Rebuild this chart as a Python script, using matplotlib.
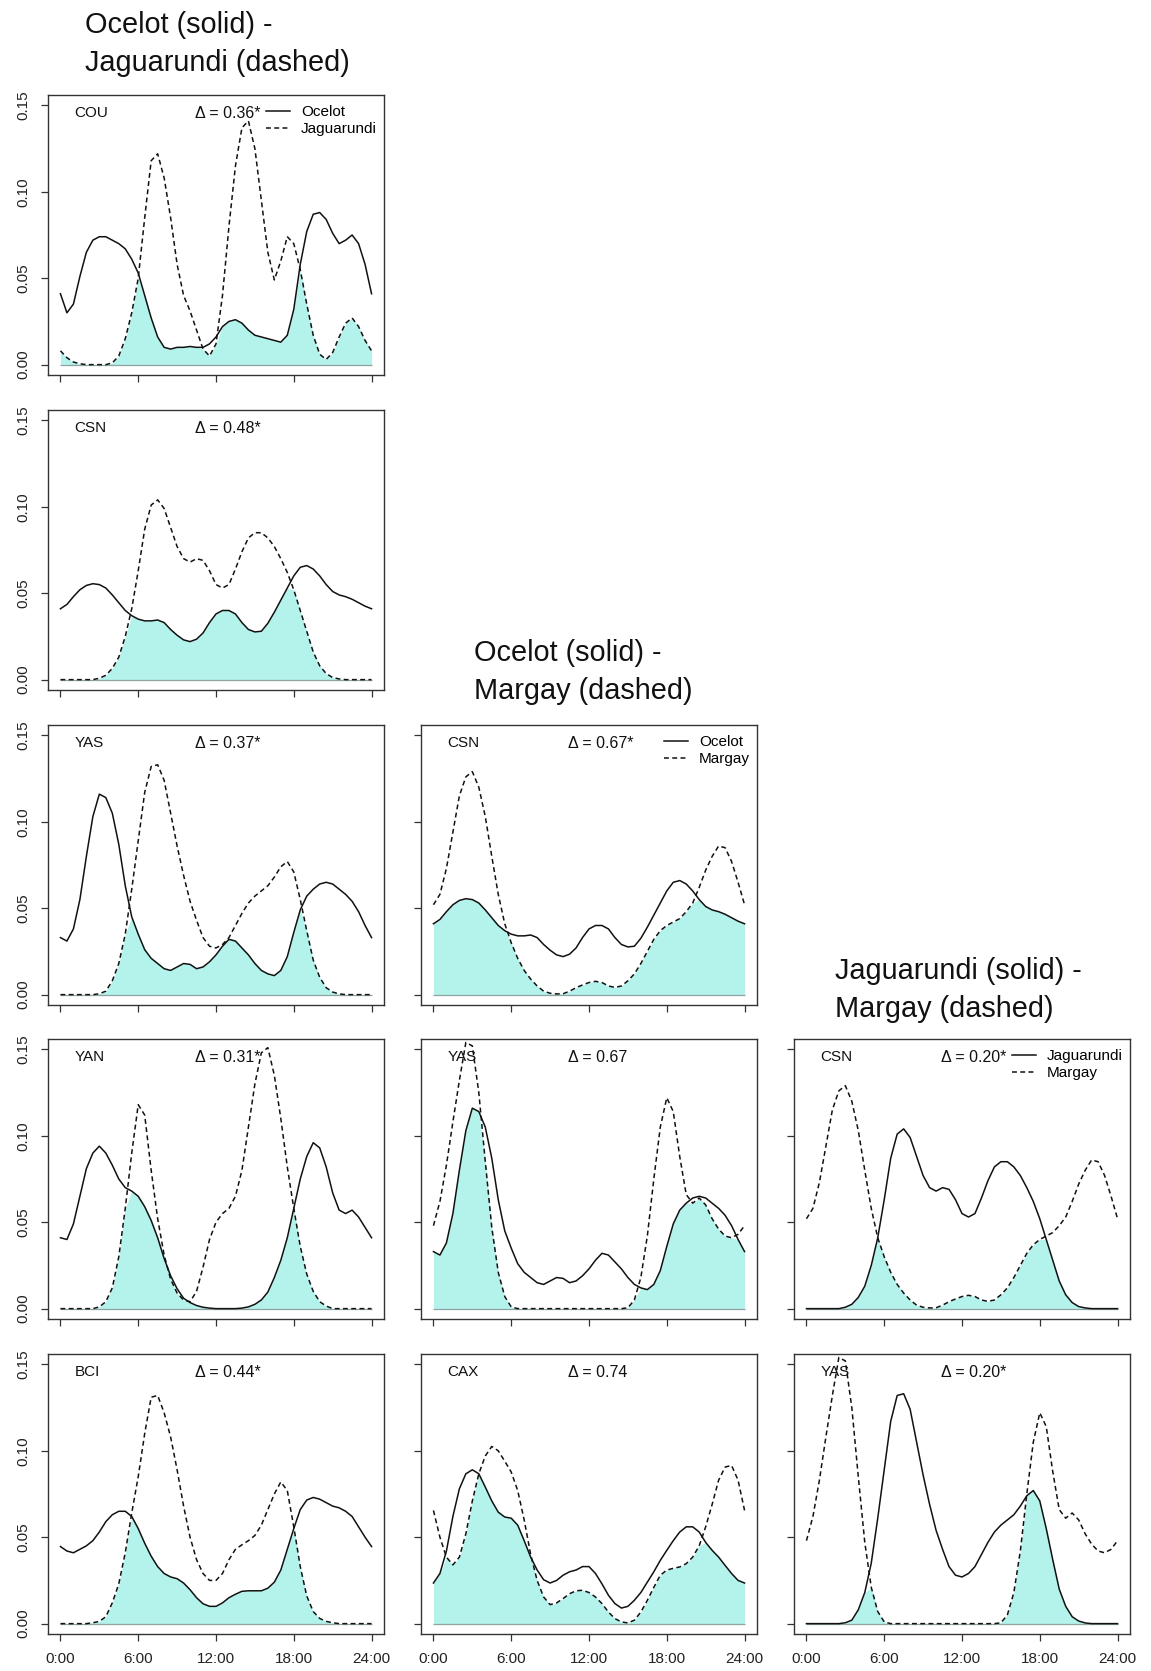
import matplotlib
matplotlib.use("Agg")
import matplotlib.pyplot as plt
import numpy as np
from matplotlib.lines import Line2D

plt.rcParams['font.family'] = ['Liberation Sans', 'DejaVu Sans']

# ---------------- data (activity density, half-hour grid 0:00 .. 24:00) ----------------
hours = [i * 0.5 for i in range(49)]

ocelot_COU = [0.041, 0.030, 0.035, 0.051, 0.065, 0.072, 0.074, 0.074, 0.072, 0.070,
              0.067, 0.061, 0.053, 0.040, 0.027, 0.016, 0.010, 0.009, 0.010, 0.010,
              0.0105, 0.010, 0.010, 0.012, 0.016, 0.022, 0.025, 0.026, 0.024, 0.020,
              0.017, 0.016, 0.015, 0.014, 0.013, 0.017, 0.032, 0.058, 0.077, 0.087,
              0.088, 0.084, 0.076, 0.070, 0.072, 0.075, 0.070, 0.058, 0.041]
jaguarundi_COU = [0.008, 0.004, 0.0015, 0.0005, 0.0, 0.0, 0.0, 0.0, 0.001, 0.005,
                  0.015, 0.030, 0.050, 0.085, 0.118, 0.122, 0.108, 0.085, 0.058, 0.040,
                  0.031, 0.020, 0.009, 0.005, 0.012, 0.040, 0.080, 0.115, 0.137, 0.141,
                  0.125, 0.095, 0.065, 0.049, 0.060, 0.074, 0.070, 0.055, 0.035, 0.017,
                  0.006, 0.003, 0.007, 0.016, 0.024, 0.027, 0.022, 0.014, 0.008]
ocelot_CSN = [0.041, 0.0435, 0.048, 0.052, 0.0545, 0.0555, 0.055, 0.053, 0.049, 0.0445,
              0.040, 0.037, 0.035, 0.034, 0.034, 0.0345, 0.033, 0.029, 0.0257, 0.023,
              0.022, 0.0234, 0.027, 0.033, 0.038, 0.040, 0.040, 0.038, 0.033, 0.029,
              0.0276, 0.028, 0.0326, 0.039, 0.046, 0.053, 0.060, 0.065, 0.066, 0.064,
              0.060, 0.055, 0.051, 0.049, 0.048, 0.0465, 0.0445, 0.0425, 0.041]
jaguarundi_CSN = [0.0, 0.0, 0.0, 0.0, 0.0, 0.0, 0.0008, 0.0025, 0.0065, 0.013,
                  0.025, 0.041, 0.063, 0.087, 0.101, 0.104, 0.099, 0.088, 0.077, 0.070,
                  0.068, 0.070, 0.069, 0.063, 0.055, 0.053, 0.055, 0.064, 0.074, 0.082,
                  0.085, 0.085, 0.082, 0.077, 0.070, 0.062, 0.052, 0.040, 0.028, 0.016,
                  0.008, 0.0035, 0.0012, 0.0004, 0.0, 0.0, 0.0, 0.0, 0.0]
ocelot_YAS = [0.033, 0.031, 0.038, 0.055, 0.080, 0.103, 0.116, 0.114, 0.105, 0.087,
              0.063, 0.045, 0.035, 0.026, 0.021, 0.018, 0.015, 0.014, 0.016, 0.018,
              0.0175, 0.015, 0.016, 0.019, 0.023, 0.028, 0.032, 0.031, 0.027, 0.023,
              0.018, 0.014, 0.012, 0.011, 0.014, 0.022, 0.036, 0.049, 0.057, 0.061,
              0.064, 0.065, 0.064, 0.061, 0.058, 0.054, 0.048, 0.040, 0.033]
jaguarundi_YAS = [0.0, 0.0, 0.0, 0.0, 0.0, 0.0, 0.0005, 0.002, 0.008, 0.018,
                  0.035, 0.061, 0.089, 0.117, 0.132, 0.133, 0.124, 0.105, 0.086, 0.069,
                  0.054, 0.043, 0.033, 0.028, 0.027, 0.029, 0.033, 0.040, 0.047, 0.053,
                  0.057, 0.060, 0.063, 0.068, 0.074, 0.077, 0.071, 0.055, 0.037, 0.020,
                  0.010, 0.004, 0.0015, 0.0004, 0.0, 0.0, 0.0, 0.0, 0.0]
ocelot_YAN = [0.041, 0.040, 0.049, 0.065, 0.081, 0.090, 0.094, 0.090, 0.083, 0.075,
              0.070, 0.068, 0.065, 0.059, 0.051, 0.041, 0.029, 0.019, 0.0115, 0.006,
              0.0035, 0.0018, 0.0008, 0.0003, 0.0, 0.0, 0.0, 0.0, 0.0003, 0.001,
              0.0025, 0.005, 0.0096, 0.018, 0.028, 0.041, 0.058, 0.075, 0.088, 0.096,
              0.093, 0.082, 0.067, 0.057, 0.055, 0.057, 0.053, 0.047, 0.041]
jaguarundi_YAN = [0.0, 0.0, 0.0, 0.0, 0.0, 0.0, 0.001, 0.004, 0.012, 0.030,
                  0.058, 0.090, 0.118, 0.112, 0.080, 0.052, 0.031, 0.017, 0.009, 0.005,
                  0.004, 0.010, 0.024, 0.040, 0.050, 0.055, 0.058, 0.065, 0.080, 0.105,
                  0.130, 0.148, 0.151, 0.135, 0.110, 0.082, 0.058, 0.036, 0.020, 0.010,
                  0.004, 0.0015, 0.0, 0.0, 0.0, 0.0, 0.0, 0.0, 0.0]
ocelot_BCI = [0.0446, 0.042, 0.041, 0.043, 0.045, 0.048, 0.053, 0.059, 0.063, 0.065,
              0.065, 0.062, 0.055, 0.0465, 0.039, 0.033, 0.029, 0.027, 0.026, 0.0235,
              0.0196, 0.015, 0.0115, 0.010, 0.010, 0.012, 0.015, 0.017, 0.0187, 0.019,
              0.019, 0.019, 0.0205, 0.024, 0.031, 0.043, 0.055, 0.066, 0.0715, 0.073,
              0.072, 0.070, 0.068, 0.067, 0.065, 0.062, 0.056, 0.050, 0.0446]
jaguarundi_BCI = [0.0, 0.0, 0.0, 0.0, 0.0, 0.0005, 0.0013, 0.004, 0.012, 0.023,
                  0.041, 0.064, 0.085, 0.110, 0.131, 0.132, 0.122, 0.108, 0.089, 0.068,
                  0.050, 0.037, 0.029, 0.025, 0.025, 0.029, 0.037, 0.043, 0.0456, 0.048,
                  0.051, 0.057, 0.066, 0.075, 0.082, 0.077, 0.056, 0.033, 0.016, 0.007,
                  0.003, 0.0013, 0.0005, 0.0, 0.0, 0.0, 0.0, 0.0, 0.0]
ocelot_CAX = [0.0235, 0.029, 0.042, 0.062, 0.078, 0.0867, 0.089, 0.0867, 0.079, 0.071,
              0.0645, 0.0617, 0.061, 0.057, 0.048, 0.0385, 0.031, 0.0254, 0.0235, 0.025,
              0.028, 0.030, 0.031, 0.033, 0.033, 0.029, 0.023, 0.0164, 0.0116, 0.009,
              0.010, 0.0135, 0.018, 0.024, 0.030, 0.0366, 0.0424, 0.048, 0.053, 0.056,
              0.056, 0.053, 0.047, 0.0424, 0.0385, 0.0337, 0.029, 0.025, 0.0235]
margay_CAX = [0.0655, 0.050, 0.0385, 0.034, 0.0385, 0.052, 0.071, 0.0867, 0.097, 0.1025,
              0.100, 0.094, 0.0877, 0.077, 0.060, 0.040, 0.025, 0.0154, 0.011, 0.012,
              0.0145, 0.0173, 0.019, 0.0193, 0.018, 0.0154, 0.0116, 0.0067, 0.0029, 0.001,
              0.0004, 0.002, 0.0067, 0.0135, 0.021, 0.028, 0.031, 0.032, 0.0328, 0.0347,
              0.0385, 0.045, 0.056, 0.069, 0.083, 0.0906, 0.0915, 0.083, 0.0655]
margay_CSN = [0.052, 0.058, 0.073, 0.094, 0.115, 0.126, 0.129, 0.120, 0.103, 0.080,
              0.058, 0.041, 0.030, 0.021, 0.014, 0.009, 0.005, 0.002, 0.0008, 0.0004,
              0.0005, 0.002, 0.004, 0.0056, 0.007, 0.0077, 0.007, 0.005, 0.0042, 0.005,
              0.008, 0.012, 0.018, 0.025, 0.032, 0.037, 0.040, 0.042, 0.044, 0.048,
              0.053, 0.062, 0.072, 0.080, 0.086, 0.085, 0.077, 0.065, 0.052]
margay_YAS = [0.048, 0.062, 0.083, 0.108, 0.132, 0.154, 0.152, 0.125, 0.085, 0.047,
              0.021, 0.007, 0.001, 0.0, 0.0, 0.0, 0.0, 0.0, 0.0, 0.0,
              0.0, 0.0, 0.0, 0.0, 0.0, 0.0, 0.0, 0.0, 0.0, 0.0,
              0.0005, 0.005, 0.018, 0.042, 0.075, 0.105, 0.122, 0.114, 0.088, 0.066,
              0.061, 0.064, 0.060, 0.052, 0.046, 0.042, 0.041, 0.043, 0.048]

x_ticks = [0, 6, 12, 18, 24]
x_ticklabels = ["0:00", "6:00", "12:00", "18:00", "24:00"]
y_ticks = [0.00, 0.05, 0.10, 0.15]
y_ticklabels = ["0.00", "0.05", "0.10", "0.15"]

# (row, col, site, overlap text, solid curve, dashed curve, legend labels or None)
panels = [
    (0, 0, "COU", "\u0394 = 0.36*", ocelot_COU, jaguarundi_COU, ("Ocelot", "Jaguarundi")),
    (1, 0, "CSN", "\u0394 = 0.48*", ocelot_CSN, jaguarundi_CSN, None),
    (2, 0, "YAS", "\u0394 = 0.37*", ocelot_YAS, jaguarundi_YAS, None),
    (3, 0, "YAN", "\u0394 = 0.31*", ocelot_YAN, jaguarundi_YAN, None),
    (4, 0, "BCI", "\u0394 = 0.44*", ocelot_BCI, jaguarundi_BCI, None),
    (2, 1, "CSN", "\u0394 = 0.67*", ocelot_CSN, margay_CSN, ("Ocelot", "Margay")),
    (3, 1, "YAS", "\u0394 = 0.67", ocelot_YAS, margay_YAS, None),
    (4, 1, "CAX", "\u0394 = 0.74", ocelot_CAX, margay_CAX, None),
    (3, 2, "CSN", "\u0394 = 0.20*", jaguarundi_CSN, margay_CSN, ("Jaguarundi", "Margay")),
    (4, 2, "YAS", "\u0394 = 0.20*", jaguarundi_YAS, margay_YAS, None),
]

titles = [
    (85, 33, 71, "Ocelot (solid) -", "Jaguarundi (dashed)"),
    (474, 661, 699, "Ocelot (solid) -", "Margay (dashed)"),
    (835, 979, 1017, "Jaguarundi (solid) -", "Margay (dashed)"),
]

# ---------------- layout ----------------
W, H = 1151, 1671
col_left = [48, 421, 794]
row_top = [95, 410, 725, 1039, 1354]
box_w, box_h = 336, 280

fill_color = "#b3f3eb"
line_color = "#111111"
frame_color = "#333333"
dash = (0, (3.2, 2.2))

fig = plt.figure(figsize=(W / 100, H / 100), dpi=100)

for row, col, site, delta, solid, dashed, leg in panels:
    left = col_left[col] / W
    bottom = 1 - (row_top[row] + box_h) / H
    ax = fig.add_axes([left, bottom, box_w / W, box_h / H])
    x = np.array(hours)
    s = np.array(solid)
    d = np.array(dashed)
    ax.fill_between(x, 0, np.minimum(s, d), color=fill_color, linewidth=0, zorder=1)
    ax.hlines(0, x[0], x[-1], color="#8fa3a1", linewidth=0.9, zorder=1.5)
    ax.plot(x, s, color=line_color, linewidth=1.1, zorder=2)
    ax.plot(x, d, color=line_color, linewidth=1.1, linestyle=dash, zorder=2)
    ax.set_xlim(-0.96, 24.96)
    ax.set_ylim(-0.006, 0.156)
    ax.set_xticks(x_ticks)
    ax.set_yticks(y_ticks)
    if row == 4:
        ax.set_xticklabels(x_ticklabels, fontsize=11)
    else:
        ax.set_xticklabels([])
    if col == 0:
        ax.set_yticklabels(y_ticklabels, fontsize=11, rotation=90, va="center")
    else:
        ax.set_yticklabels([])
    ax.tick_params(direction="out", length=5, width=0.9, color=frame_color,
                   labelcolor="#222222", pad=8)
    for sp in ax.spines.values():
        sp.set_color(frame_color)
        sp.set_linewidth(1.0)
    ax.text(1.1, 0.1455, site, fontsize=11, ha="left", va="center", color="#111111")
    ax.text(10.35, 0.1455, delta, fontsize=11.5, ha="left", va="center", color="#111111")
    if leg is not None:
        handles = [Line2D([], [], color=line_color, linewidth=1.1),
                   Line2D([], [], color=line_color, linewidth=1.1, linestyle=dash)]
        ax.legend(handles, list(leg), loc="upper right", frameon=False, fontsize=11,
                  handlelength=1.6, handletextpad=0.7, labelspacing=0.22,
                  borderpad=0.0, borderaxespad=0.0,
                  bbox_to_anchor=(1 - 7 / box_w, 1 - 10 / box_h))

for xl, y1, y2, l1, l2 in titles:
    fig.text(xl / W, 1 - y1 / H, l1, fontsize=20.75, ha="left", va="baseline", color="#111111")
    fig.text(xl / W, 1 - y2 / H, l2, fontsize=20.75, ha="left", va="baseline", color="#111111")

fig.savefig("out.png", dpi=100, facecolor="white")
